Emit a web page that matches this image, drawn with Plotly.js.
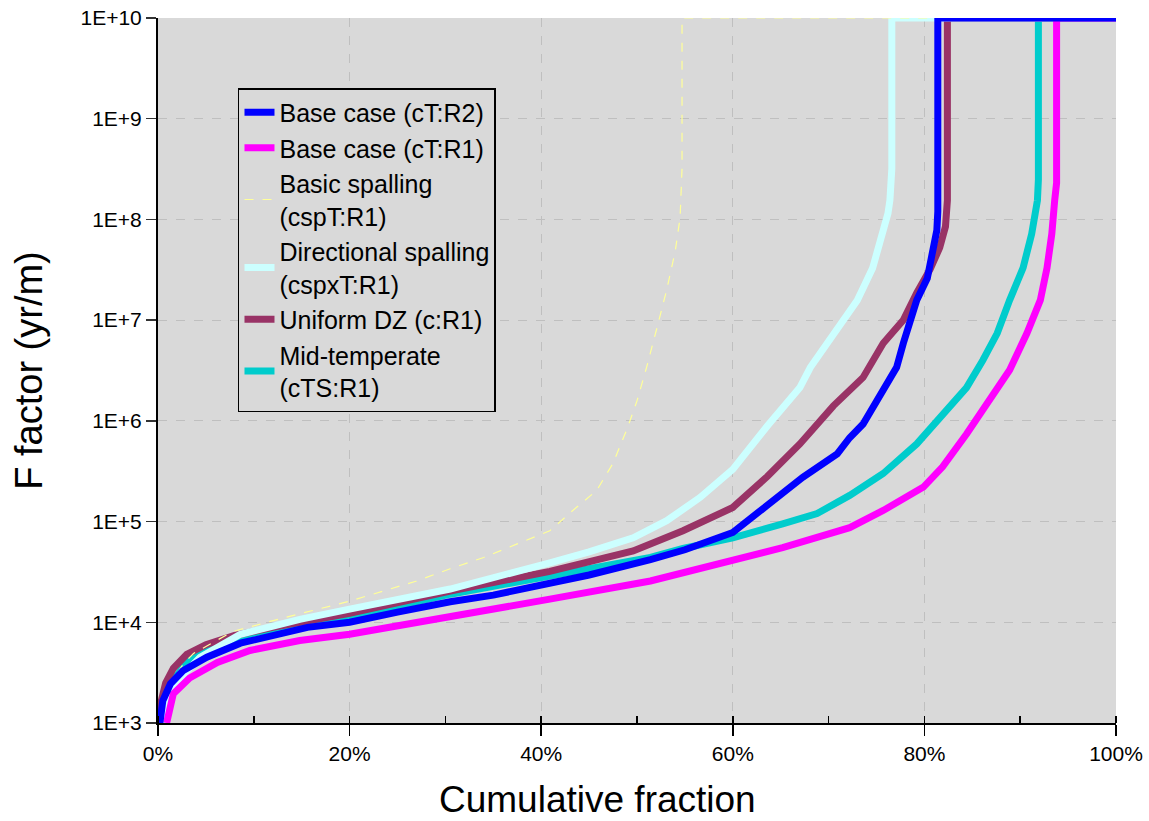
<!DOCTYPE html>
<html>
<head>
<meta charset="utf-8">
<script src="https://cdn.plot.ly/plotly-3.0.1.min.js"></script>
<style>html,body{margin:0;padding:0;background:#fff}#chart{width:1149px;height:821px}</style>
</head>
<body>
<div id="chart"></div>
<script>
// Cumulative fraction (%) and F factor (yr/m) for each case
const blueX = [0.2, 0.5, 1.3, 2.6, 5.1, 8.6, 15.6, 20, 25, 30.5, 35, 40.9, 45, 51.4, 55, 60, 64.6, 67.3, 70.9, 72.2, 73.6, 75.7, 77.1, 77.8, 78.5, 79.2, 80.3, 80.9, 81.3, 81.4, 81.4, 100];
const blueF = [1e3, 1.66e3, 2.45e3, 3.3e3, 4.5e3, 6.2e3, 8.9e3, 1.0e4, 1.26e4, 1.6e4, 1.86e4, 2.4e4, 2.95e4, 4.2e4, 5.25e4, 7.8e4, 1.74e5, 2.75e5, 4.7e5, 6.8e5, 9.3e5, 2.0e6, 3.4e6, 5.9e6, 9.3e6, 1.58e7, 2.6e7, 5.75e7, 7.8e7, 1.2e8, 1e10, 1e10];

const magentaX = [0.9, 1.6, 3.3, 6.2, 9.6, 14.8, 20, 30.5, 40.9, 51.4, 60, 65.2, 72.2, 75.7, 79.9, 81.9, 84.4, 86.8, 88.9, 90.7, 92.1, 92.8, 93.3, 93.6, 93.8, 93.8, 100];
const magentaF = [1e3, 1.95e3, 2.8e3, 4.0e3, 5.25e3, 6.6e3, 7.6e3, 1.12e4, 1.7e4, 2.57e4, 4.1e4, 5.5e4, 8.7e4, 1.29e5, 2.2e5, 3.5e5, 7.4e5, 1.58e6, 3.2e6, 7.4e6, 1.58e7, 3.3e7, 7.2e7, 1.55e8, 2.3e8, 1e10, 1e10];

const yellowX = [0.2, 1, 2.6, 3.7, 7.8, 13, 20, 27, 30.5, 34, 37.5, 40.9, 43.3, 45.8, 47.5, 49, 50, 51, 52.1, 53.1, 54, 54.5, 54.7, 54.7, 100];
const yellowF = [1e3, 2.24e3, 3.8e3, 4.9e3, 8.1e3, 1.1e4, 1.62e4, 2.57e4, 3.4e4, 4.4e4, 6.0e4, 8.1e4, 1.29e5, 2.04e5, 3.8e5, 8.5e5, 1.58e6, 3.4e6, 8.5e6, 2.0e7, 4.9e7, 1.05e8, 3.2e8, 1e10, 1e10];

const lightCyanX = [0.3, 0.5, 2.0, 4.4, 8.6, 14.8, 20, 30.5, 40.9, 45, 49.6, 53.1, 56.6, 60, 63.6, 67, 68.1, 70.9, 73, 74.6, 75.7, 76.2, 76.4, 76.6, 76.6, 100];
const lightCyanF = [1e3, 1.23e3, 2.63e3, 4.5e3, 7.6e3, 1.07e4, 1.35e4, 2.14e4, 3.9e4, 5.0e4, 6.9e4, 1.02e5, 1.74e5, 3.3e5, 8.9e5, 2.14e6, 3.4e6, 7.9e6, 1.58e7, 3.3e7, 7.2e7, 1.15e8, 1.55e8, 3.2e8, 1e10, 1e10];

const maroonX = [0.0, 0.3, 0.8, 1.6, 3, 5, 8, 12, 20, 30.5, 40.9, 45, 49.6, 54.8, 60, 63.6, 67, 70.5, 73.6, 75.7, 77.8, 79.2, 80.6, 81.6, 82.2, 82.4, 82.4, 100];
const maroonF = [1e3, 1.6e3, 2.5e3, 3.5e3, 4.8e3, 6.0e3, 7.4e3, 8.9e3, 1.23e4, 2.04e4, 3.2e4, 4.0e4, 5.1e4, 8.1e4, 1.38e5, 2.8e5, 5.9e5, 1.41e6, 2.7e6, 5.9e6, 1.0e7, 1.86e7, 3.2e7, 5.25e7, 8.5e7, 1.55e8, 1e10, 1e10];

const cyanX = [0.3, 1, 3, 6, 10, 20, 30.5, 40.9, 46.1, 51.4, 54.8, 60, 65.2, 68.8, 72.2, 75.7, 79.2, 81.9, 84.4, 86.1, 87.6, 88.9, 90.3, 91.2, 91.8, 91.9, 91.9, 100];
const cyanF = [1e3, 2.24e3, 4.0e3, 6.0e3, 7.8e3, 1.12e4, 1.9e4, 2.9e4, 3.5e4, 4.4e4, 5.4e4, 6.9e4, 9.5e4, 1.2e5, 1.82e5, 3.0e5, 5.9e5, 1.17e6, 2.14e6, 4.0e6, 7.4e6, 1.58e7, 3.3e7, 7.2e7, 1.55e8, 2.5e8, 1e10, 1e10];

const seriesNames = ['Base case (cT:R2)', 'Base case (cT:R1)', 'Basic spalling<br>(cspT:R1)', 'Directional spalling<br>(cspxT:R1)', 'Uniform DZ (c:R1)', 'Mid-temperate<br>(cTS:R1)'];

const xTickVals = [0, 20, 40, 60, 80, 100];
const xTickText = ['0%', '20%', '40%', '60%', '80%', '100%'];
const yTickVals = [1e3, 1e4, 1e5, 1e6, 1e7, 1e8, 1e9, 1e10];
const yTickText = ['1E+3', '1E+4', '1E+5', '1E+6', '1E+7', '1E+8', '1E+9', '1E+10'];

function tr(x, y, name, color, width, dash, rank) {
  return {x: x, y: y, name: name, type: 'scatter', mode: 'lines',
    line: {color: color, width: width, dash: dash || 'solid'}, legendrank: rank};
}

const data = [
  tr(cyanX, cyanF, seriesNames[5], '#00cccc', 7, null, 6),
  tr(maroonX, maroonF, seriesNames[4], '#993366', 7, null, 5),
  tr(lightCyanX, lightCyanF, seriesNames[3], '#ccffff', 7, null, 4),
  tr(yellowX, yellowF, seriesNames[2], '#ffff99', 1.2, 'dash', 3),
  tr(magentaX, magentaF, seriesNames[1], '#ff00ff', 7, null, 2),
  tr(blueX, blueF, seriesNames[0], '#0000ff', 7, null, 1)
];

const font = 'Liberation Sans, Arial, sans-serif';

const layout = {
  width: 1149, height: 821,
  margin: {l: 158, r: 33, t: 18, b: 98},
  paper_bgcolor: '#ffffff',
  plot_bgcolor: '#d9d9d9',
  font: {family: font, color: '#000'},
  showlegend: true,
  legend: {
    x: 0.0835, y: 0.9007, xanchor: 'left', yanchor: 'top',
    bgcolor: '#d9d9d9', bordercolor: '#000', borderwidth: 1.5,
    font: {family: font, size: 25, color: '#000'},
    tracegroupgap: 0, itemwidth: 30
  },
  xaxis: {
    range: [0, 100], tickvals: xTickVals, ticktext: xTickText,
    showline: true, linecolor: '#000', linewidth: 2,
    ticks: 'outside', ticklen: 11, tickcolor: '#000', tickwidth: 1.5,
    tickfont: {family: font, size: 21, color: '#000'},
    showgrid: true, gridcolor: '#bfbfbf', griddash: 'dash', gridwidth: 1,
    minor: {dtick: 10, tick0: 0, ticks: 'inside', ticklen: 7, tickcolor: '#000', showgrid: false},
    zeroline: false
  },
  yaxis: {
    type: 'log', range: [3, 10], tickvals: yTickVals, ticktext: yTickText,
    showline: true, linecolor: '#000', linewidth: 2,
    ticks: 'outside', ticklen: 10, tickcolor: '#333', tickwidth: 1.5,
    tickfont: {family: font, size: 21, color: '#000'},
    showgrid: true, gridcolor: '#bfbfbf', griddash: 'dash', gridwidth: 1,
    zeroline: false,
    title: {text: 'F factor (yr/m)', font: {family: font, size: 38, color: '#000'}, standoff: 26}
  },
  annotations: [{
    text: 'Cumulative fraction', xref: 'paper', yref: 'paper',
    x: 0.459, y: -0.108, xanchor: 'center', yanchor: 'middle', showarrow: false,
    font: {family: font, size: 37, color: '#000'}
  }]
};

Plotly.newPlot('chart', data, layout, {staticPlot: true});
</script>
</body>
</html>
